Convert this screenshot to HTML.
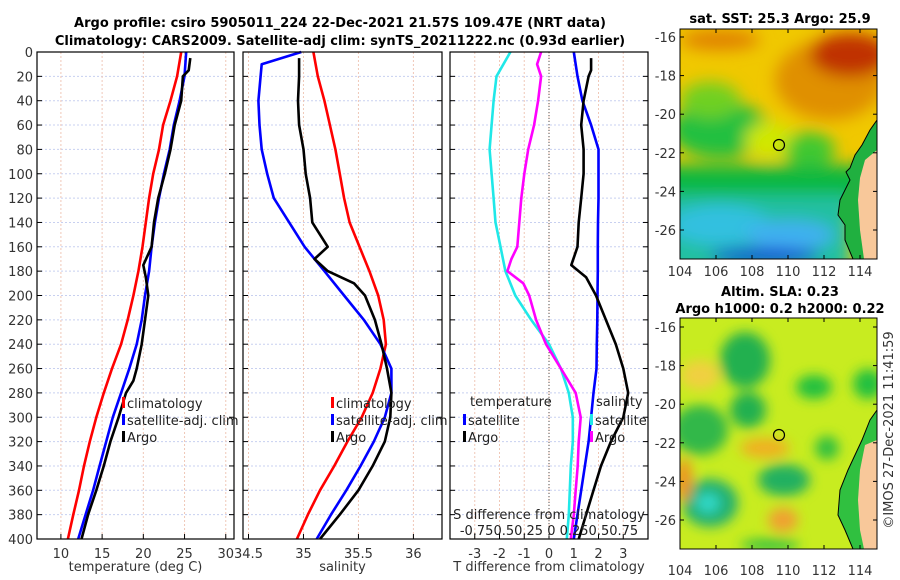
<!DOCTYPE html>
<html><head><meta charset="utf-8">
<style>
html,body{margin:0;padding:0;background:#fff;}
svg{display:block;font-family:"DejaVu Sans","Liberation Sans",sans-serif;}
</style></head>
<body>
<svg id="fig" width="900" height="580" viewBox="0 0 900 580">
<defs>
<filter id="bl" x="-50%" y="-50%" width="200%" height="200%"><feGaussianBlur stdDeviation="8"/></filter>
<filter id="bl2" x="-50%" y="-50%" width="200%" height="200%"><feGaussianBlur stdDeviation="6"/></filter>
<clipPath id="c1"><rect x="680" y="29" width="197" height="230"/></clipPath>
<clipPath id="c2"><rect x="680" y="318" width="197" height="231"/></clipPath>
</defs>
<text x="340" y="27" text-anchor="middle" font-size="13" font-weight="bold">Argo profile: csiro 5905011_224 22-Dec-2021 21.57S 109.47E (NRT data)</text>
<text x="340" y="45" text-anchor="middle" font-size="13" font-weight="bold">Climatology: CARS2009. Satellite-adj clim: synTS_20211222.nc (0.93d earlier)</text>
<g id="panels"></g>

<!-- SST map -->
<g>
<text x="780" y="23" text-anchor="middle" font-size="13" font-weight="bold">sat. SST: 25.3 Argo: 25.9</text>
<g clip-path="url(#c1)">
<rect x="680" y="29" width="197" height="230" fill="#f0c800"/>
<g filter="url(#bl)">
<ellipse cx="720" cy="130" rx="50" ry="28" fill="#20c040"/>
<ellipse cx="710" cy="100" rx="30" ry="18" fill="#70d020"/>
<ellipse cx="770" cy="140" rx="25" ry="18" fill="#d0e800"/>
<ellipse cx="810" cy="150" rx="25" ry="18" fill="#40c830"/>
<rect x="660" y="165" width="240" height="40" fill="#10b840"/>
<rect x="660" y="195" width="190" height="80" fill="#20c0a0"/>
<ellipse cx="720" cy="225" rx="50" ry="20" fill="#30c0e0"/>
<ellipse cx="790" cy="235" rx="45" ry="15" fill="#40b0f0"/>
<ellipse cx="765" cy="256" rx="55" ry="8" fill="#1040d0"/>
<ellipse cx="830" cy="80" rx="55" ry="40" fill="#e09000"/>
<ellipse cx="850" cy="55" rx="40" ry="22" fill="#c03000"/>
<ellipse cx="720" cy="40" rx="40" ry="10" fill="#e08000"/>
</g>
<path d="M877,120 L870,130 L862,145 L855,155 L850,168 L846,172 L850,180 L840,200 L838,215 L845,225 L845,240 L853,259 L877,259 Z" fill="#20b040" stroke="#000" stroke-width="1"/>
<path d="M877,150 L865,160 L860,178 L858,200 L860,230 L864,259 L877,259 Z" fill="#f8c89a"/>
</g>
<rect x="680" y="29" width="197" height="230" fill="none" stroke="#000"/>
<circle cx="779" cy="145" r="5.5" fill="none" stroke="#000" stroke-width="1.2"/>
</g>

<!-- SLA map -->
<g>
<text x="780" y="296" text-anchor="middle" font-size="13" font-weight="bold">Altim. SLA: 0.23</text>
<text x="780" y="313" text-anchor="middle" font-size="13" font-weight="bold">Argo h1000: 0.2 h2000: 0.22</text>
<g clip-path="url(#c2)">
<rect x="680" y="318" width="197" height="231" fill="#c8ec20"/>
<g filter="url(#bl2)">
<ellipse cx="745" cy="360" rx="25" ry="28" fill="#20b050"/>
<ellipse cx="700" cy="430" rx="28" ry="25" fill="#30b848"/>
<ellipse cx="748" cy="410" rx="18" ry="18" fill="#20b050"/>
<ellipse cx="814" cy="387" rx="18" ry="12" fill="#20c040"/>
<ellipse cx="868" cy="384" rx="15" ry="15" fill="#20c040"/>
<ellipse cx="827" cy="448" rx="12" ry="12" fill="#30c040"/>
<ellipse cx="710" cy="503" rx="28" ry="24" fill="#20b070"/>
<ellipse cx="708" cy="503" rx="12" ry="10" fill="#30d8c8"/>
<ellipse cx="784" cy="480" rx="26" ry="16" fill="#20b060"/>
<ellipse cx="765" cy="448" rx="25" ry="10" fill="#f0b020"/>
<ellipse cx="783" cy="520" rx="15" ry="12" fill="#f0a030"/>
<ellipse cx="684" cy="480" rx="8" ry="22" fill="#f09020"/>
<ellipse cx="700" cy="375" rx="20" ry="15" fill="#f0d040"/>
<ellipse cx="770" cy="545" rx="30" ry="6" fill="#30c040"/>
</g>
<path d="M877,410 L870,420 L862,440 L855,455 L848,470 L840,490 L838,515 L845,530 L853,549 L877,549 Z" fill="#30c040" stroke="#000" stroke-width="1"/>
<path d="M877,440 L865,445 L860,470 L858,500 L860,530 L864,549 L877,549 Z" fill="#f8c89a"/>
</g>
<rect x="680" y="318" width="197" height="231" fill="none" stroke="#000"/>
<circle cx="779" cy="435" r="5.5" fill="none" stroke="#000" stroke-width="1.2"/>
</g>
<text transform="translate(893,430) rotate(-90)" text-anchor="middle" font-size="13" fill="#333">©IMOS 27-Dec-2021 11:41:59</text>
<g id="maps-axes"></g>
</svg>
<script>
// depth levels (m)
const depths = [0,20,40,60,80,100,120,140,160,180,200,220,240,260,280,300,320,340,360,380,400];
// panel 1 temperature (deg C)
const tempClim = [24.6,24.1,23.3,22.4,21.9,21.2,20.7,20.3,19.9,19.4,18.8,18.1,17.3,16.2,15.2,14.3,13.5,12.8,12.2,11.5,10.85];
const tempSat  = [25.2,25.0,24.4,23.7,23.2,22.5,21.9,21.4,21.0,20.7,20.2,19.8,19.2,18.3,17.3,16.3,15.5,14.7,13.9,13.0,12.1];
const tempArgoDepths = [5,15,20,40,60,80,100,120,140,160,175,185,200,220,240,260,270,280,300,320,340,360,380,400];
const tempArgo = [25.7,25.5,24.8,24.6,23.8,23.3,22.6,21.8,21.3,21.0,20.0,20.3,20.6,20.2,19.8,19.2,18.8,17.9,17.0,16.0,15.2,14.3,13.3,12.5];
// panel 2 salinity
const salClim = [35.09,35.13,35.19,35.24,35.29,35.33,35.37,35.42,35.51,35.60,35.68,35.73,35.75,35.70,35.63,35.53,35.40,35.28,35.15,35.04,34.94];
const salSatDepths = [0,5,10,20,40,60,80,100,120,140,160,180,200,220,240,260,280,300,320,340,360,380,400];
const salSat = [34.98,34.80,34.62,34.61,34.59,34.60,34.62,34.67,34.73,34.87,35.01,35.19,35.37,35.55,35.70,35.80,35.80,35.74,35.64,35.52,35.39,35.25,35.12];
const salArgoDepths = [5,20,40,60,80,100,120,140,160,170,180,190,200,220,240,260,280,300,320,340,360,380,400];
const salArgo = [34.96,34.96,34.95,34.96,35.0,35.02,35.06,35.08,35.22,35.1,35.22,35.46,35.56,35.65,35.71,35.76,35.80,35.79,35.74,35.63,35.50,35.33,35.15];
// panel 3 differences
const dTSat = [1.0,1.15,1.35,1.7,2.0,2.0,2.0,1.98,1.97,1.97,1.96,1.95,1.93,1.92,1.8,1.7,1.6,1.45,1.3,1.15,1.0];
const dTArgoDepths = [5,15,20,40,60,80,100,120,140,160,175,185,200,220,240,260,280,300,320,340,360,380,400];
const dTArgo = [1.7,1.7,1.6,1.4,1.3,1.4,1.4,1.3,1.2,1.15,0.9,1.5,1.9,2.3,2.7,3.0,3.2,3.0,2.5,2.1,1.8,1.5,1.2];
const dSSat = [-0.39,-0.53,-0.56,-0.58,-0.6,-0.58,-0.56,-0.54,-0.49,-0.44,-0.34,-0.18,0.0,0.12,0.2,0.24,0.24,0.22,0.21,0.2,0.18];
const dSArgoDepths = [0,10,20,40,60,80,100,120,140,160,170,180,190,200,220,240,260,280,300,320,340,360,380,400];
const dSArgo = [-0.08,-0.12,-0.08,-0.11,-0.15,-0.21,-0.25,-0.28,-0.30,-0.32,-0.38,-0.42,-0.26,-0.2,-0.13,-0.03,0.12,0.27,0.32,0.30,0.29,0.27,0.25,0.22];

const NS='http://www.w3.org/2000/svg';
const root=document.getElementById('panels');
function mk(tag,attrs,parent){const e=document.createElementNS(NS,tag);for(const k in attrs)e.setAttribute(k,attrs[k]);(parent||root).appendChild(e);return e;}
const Y0=52,Y1=539;
function yOf(d){return Y0+(d/400)*(Y1-Y0);}
function panel(name,x0,x1,vmin,vmax,ticks,tickLab,xlabel,showY){
  const g=mk('g',{});
  
  
  const sx=v=>x0+(v-vmin)/(vmax-vmin)*(x1-x0);
  depths.forEach(d=>{const l=mk('line',{x1:x0,x2:x1,y1:yOf(d),y2:yOf(d),stroke:'#c8d0f0','stroke-dasharray':'2,2','stroke-width':1},g);
    
    mk('line',{x1:x0,x2:x0+5,y1:yOf(d),y2:yOf(d),stroke:'#000'},g);mk('line',{x1:x1,x2:x1-5,y1:yOf(d),y2:yOf(d),stroke:'#000'},g);
    if(showY){const t=mk('text',{x:x0-4,y:yOf(d)+5,'text-anchor':'end','font-size':13,fill:'#333'},g);t.textContent=d;
      }
  });
  ticks.forEach((v,i)=>{const X=sx(v);
    const l=mk('line',{x1:X,x2:X,y1:Y0,y2:Y1,stroke:'#f0c8b8','stroke-dasharray':'2,2'},g);
    
    mk('line',{x1:X,x2:X,y1:Y1,y2:Y1-5,stroke:'#000'},g);
    if(tickLab){const t=mk('text',{x:X,y:Y1+19,'text-anchor':'middle','font-size':13,fill:'#333'},g);t.textContent=tickLab[i];
      }
  });
  const xl=mk('text',{x:(x0+x1)/2,y:571,'text-anchor':'middle','font-size':13,fill:'#333'},g);xl.textContent=xlabel;
  
  return {g,sx};
}
function line(p,vals,ds,color,name,sx){
  const pts=vals.map((v,i)=>(sx||p.sx)(v).toFixed(1)+','+yOf(ds[i]).toFixed(1)).join(' ');
  const l=mk('polyline',{points:pts,fill:'none',stroke:color,'stroke-width':2.6,'stroke-linejoin':'round'},p.g);
  
}
function frame(p,x0,x1){const r=mk('rect',{x:x0,y:Y0,width:x1-x0,height:Y1-Y0,fill:'none',stroke:'#000','stroke-width':1.2},p.g);
  }
function legend(g,x,y,items){items.forEach((it,i)=>{
  mk('rect',{x:x,y:y+i*17-9,width:3,height:11,fill:it[1]},g);
  const t=mk('text',{x:x+5,y:y+i*17+2,'font-size':13,fill:'#222'},g);t.textContent=it[0];
  });}

// Panel 1
const p1=panel('temperature-panel',37,234,7.1,31,[10,15,20,25,30],['10','15','20','25','30'],'temperature (deg C)',true);
line(p1,tempClim,depths,'#f00','climatology-temp-line');
line(p1,tempSat,depths,'#00f','satellite-temp-line');
line(p1,tempArgo,tempArgoDepths,'#000','argo-temp-line');
frame(p1,37,234);
legend(p1.g,122,406,[['climatology','#f00'],['satellite-adj. clim','#00f'],['Argo','#000']]);

// Panel 2
const p2=panel('salinity-panel',243,442,34.45,36.26,[34.5,35,35.5,36],['34.5','35','35.5','36'],'salinity',false);
line(p2,salClim,depths,'#f00','climatology-sal-line');
line(p2,salSat,salSatDepths,'#00f','satellite-sal-line');
line(p2,salArgo,salArgoDepths,'#000','argo-sal-line');
frame(p2,243,442);
legend(p2.g,331,406,[['climatology','#f00'],['satellite-adj. clim','#00f'],['Argo','#000']]);

// Panel 3
const p3=panel('difference-panel',450,648,-4,4,[-3,-2,-1,0,1,2,3],['-3','-2','-1','0','1','2','3'],'T difference from climatology',false);
const sxS=v=>450+(v+1)/2*(648-450);
const zl=mk('line',{x1:p3.sx(0),x2:p3.sx(0),y1:Y0,y2:Y1,stroke:'#555','stroke-dasharray':'1,2'},p3.g);

line(p3,dSSat,depths,'#20e8e8','satellite-sal-diff-line',sxS);
line(p3,dSArgo,dSArgoDepths,'#f0f','argo-sal-diff-line',sxS);
line(p3,dTSat,depths,'#00f','satellite-temp-diff-line');
line(p3,dTArgo,dTArgoDepths,'#000','argo-temp-diff-line');
frame(p3,450,648);
const lt=mk('text',{x:470,y:406,'font-size':13,fill:'#222'},p3.g);lt.textContent='temperature';

legend(p3.g,463,423,[['satellite','#00f'],['Argo','#000']]);
const ls=mk('text',{x:596,y:406,'font-size':13,fill:'#222'},p3.g);ls.textContent='salinity';

legend(p3.g,590,423,[['satellite','#20e8e8'],['Argo','#f0f']]);
const sTitle=mk('text',{x:549,y:519,'text-anchor':'middle','font-size':13,fill:'#222'},p3.g);sTitle.textContent='S difference from climatology';

const sLab=mk('text',{x:549,y:535,'text-anchor':'middle','font-size':13,fill:'#222'},p3.g);sLab.textContent='-0.750.50.25 0 0.250.50.75';


// map axes
const ma=document.getElementById('maps-axes');
const lons=[104,106,108,110,112,114];
const lats=[-16,-18,-20,-22,-24,-26];
[[29,259,37,276],[318,549,327,575]].forEach(([top,bot,y16,ly],k)=>{
  lons.forEach(lo=>{const X=680+(lo-104)*18;
    mk('line',{x1:X,x2:X,y1:bot,y2:bot-4,stroke:'#000'},ma);mk('line',{x1:X,x2:X,y1:top,y2:top+4,stroke:'#000'},ma);
    const t=mk('text',{x:X,y:ly,'text-anchor':'middle','font-size':13,fill:'#333'},ma);t.textContent=lo;
    });
  lats.forEach(la=>{const Y=y16+(-16-la)*19.3;
    mk('line',{x1:680,x2:684,y1:Y,y2:Y,stroke:'#000'},ma);mk('line',{x1:877,x2:873,y1:Y,y2:Y,stroke:'#000'},ma);
    const t=mk('text',{x:676,y:Y+5,'text-anchor':'end','font-size':13,fill:'#333'},ma);t.textContent=la;
    });
});
</script>
</body></html>
